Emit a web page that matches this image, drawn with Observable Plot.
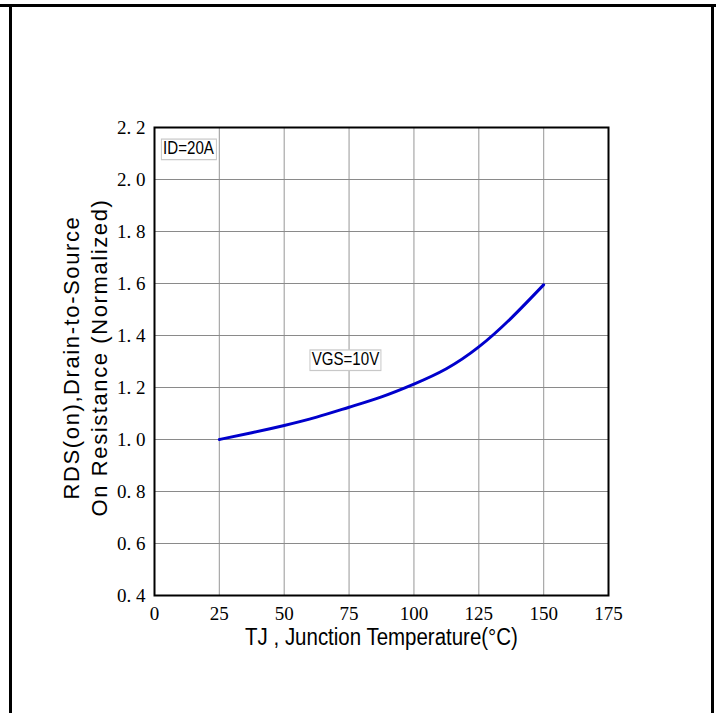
<!DOCTYPE html>
<html>
<head>
<meta charset="utf-8">
<script src="https://cdn.jsdelivr.net/npm/d3@7"></script>
<script src="https://cdn.jsdelivr.net/npm/@observablehq/plot@0.6"></script>
<style>
  body { margin: 0; background: #fff; }
  #wrap { position: relative; width: 724px; height: 713px; overflow: hidden; background: #fff; }
  .bd { position: absolute; background: #000; }
  #chart svg { display: block; }
</style>
</head>
<body>
<div id="wrap">
  <div id="chart"></div>
  <div class="bd" style="left:0;top:4px;width:716px;height:3px;"></div>
  <div class="bd" style="left:9px;top:5px;width:3px;height:708px;"></div>
  <div class="bd" style="left:711px;top:5px;width:3px;height:708px;"></div>
</div>
<script>
// Data
const temps = [25, 37.5, 50, 62.5, 75, 87.5, 100, 112.5, 125, 137.5, 150];
const rdsOn = [1.0, 1.026, 1.054, 1.086, 1.124, 1.164, 1.213, 1.272, 1.356, 1.467, 1.595];
const xTicks = [0, 25, 50, 75, 100, 125, 150, 175];
const yTicks = [0.4, 0.6, 0.8, 1.0, 1.2, 1.4, 1.6, 1.8, 2.0, 2.2];
const xTitle = "TJ , Junction Temperature(°C)";
const yTitleLines = ["RDS(on),Drain-to-Source", "On Resistance (Normalized)"];
const notes = [
  {label: "ID=20A", t: 13.1, r: 2.119},
  {label: "VGS=10V", t: 73.6, r: 1.308}
];

const curve = temps.map((t, i) => ({t, r: rdsOn[i]}));

const serif = "'Liberation Serif', 'DejaVu Serif', serif";
const sans = "'Liberation Sans', 'DejaVu Sans', sans-serif";

const plot = Plot.plot({
  width: 724,
  height: 713,
  marginLeft: 154,
  marginRight: 116,
  marginTop: 127,
  marginBottom: 118,
  style: {background: "transparent", color: "#000"},
  x: {domain: [0, 175], ticks: xTicks, label: null},
  y: {domain: [0.4, 2.2], ticks: yTicks, label: null},
  marks: [
    Plot.gridX(xTicks.slice(1, -1), {stroke: "#a8a8a8", strokeOpacity: 1, strokeWidth: 1.2}),
    Plot.gridY(yTicks.slice(1, -1), {stroke: "#8a8a8a", strokeOpacity: 1, strokeWidth: 1.2}),
    Plot.axisX(xTicks, {tickSize: 0, tickPadding: 11, tickFormat: d => String(d), fontSize: 19, fontFamily: serif, label: null}),
    Plot.axisY(yTicks, {tickSize: 0, tickPadding: 9, tickFormat: d => d.toFixed(1).replace(".", ". "), fontSize: 19, fontFamily: serif, label: null}),
    Plot.frame({stroke: "#000", strokeWidth: 2}),
    Plot.line(curve, {x: "t", y: "r", stroke: "#0000cc", strokeWidth: 3, curve: "natural"}),
    Plot.text(notes, {x: "t", y: "r", text: "label", fontSize: 18, fontFamily: sans, fill: "#000", className: "note"}),
    Plot.text([xTitle], {frameAnchor: "bottom", dy: 49, textAnchor: "middle", fontSize: 23, fontFamily: sans, fill: "#000", className: "xtitle"}),
    Plot.text([yTitleLines.join("\n")], {frameAnchor: "left", dx: -70, dy: -4, rotate: -90, textAnchor: "middle", fontSize: 22, lineHeight: 1.27, fontFamily: sans, fill: "#000", className: "ytitle"})
  ]
});
document.getElementById("chart").appendChild(plot);

// letter spacing of y title
plot.querySelectorAll("g.ytitle text").forEach(t => { t.style.letterSpacing = "1.6px"; });

// horizontally condense a text element around its own centre
function condense(t, k) {
  const b = t.getBBox();
  const cx = b.x + b.width / 2;
  const tr = t.getAttribute("transform") || "";
  t.setAttribute("transform", `${tr} translate(${cx},0) scale(${k},1) translate(${-cx},0)`);
}
plot.querySelectorAll("g.xtitle text").forEach(t => condense(t, 0.89));

// boxes behind the annotation labels
plot.querySelectorAll("g.note text").forEach(t => {
  condense(t, 0.84);
  const b = t.getBBox();
  const ns = "http://www.w3.org/2000/svg";
  const rect = document.createElementNS(ns, "rect");
  rect.setAttribute("x", b.x - 2);
  rect.setAttribute("y", b.y + 1);
  rect.setAttribute("width", b.width + 4);
  rect.setAttribute("height", b.height);
  rect.setAttribute("fill", "#fff");
  rect.setAttribute("stroke", "#c8c8c8");
  rect.setAttribute("stroke-width", "1.2");
  rect.setAttribute("transform", t.getAttribute("transform"));
  t.parentNode.insertBefore(rect, t);
});
</script>
</body>
</html>
